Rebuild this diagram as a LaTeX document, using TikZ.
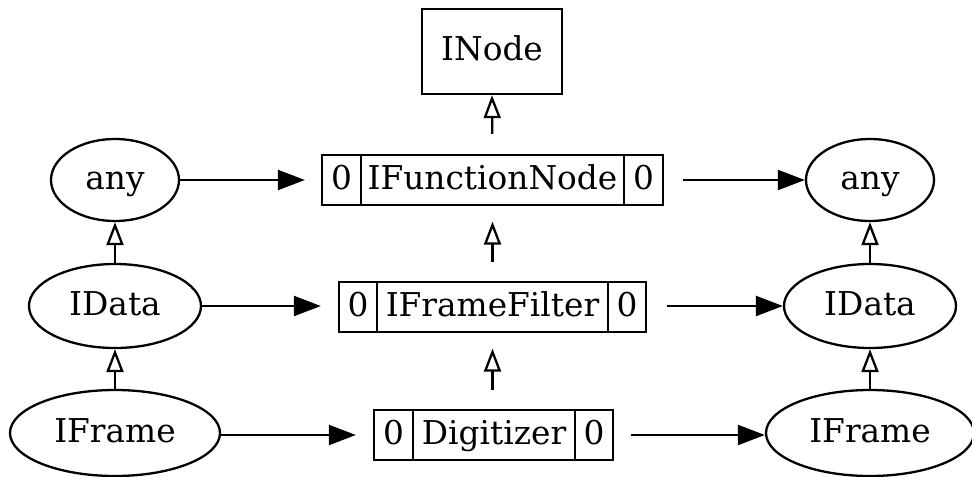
\documentclass[tikz,border=0pt]{standalone}
\usepackage{fontspec}
\setmainfont{DejaVu Serif}
\usetikzlibrary{arrows.meta,shapes.geometric}
\begin{document}
\begin{tikzpicture}[x=0.5pt,y=-0.5pt,
  every node/.style={font=\fontsize{16.4}{20}\selectfont, inner sep=0pt, line width=1.15pt, text height=12pt, text depth=2.5pt},
  ell/.style={draw, ellipse, minimum width=#1},
  cell/.style={draw, rectangle, minimum height=25pt, minimum width=#1},
  flow/.style={line width=1.15pt, -{Triangle[length=13.5pt,width=10pt]}},
  inh/.style={line width=1.15pt, -{Triangle[open,length=11.5pt,width=8.5pt]}}]
\useasboundingbox (0,0) rectangle (972,476);
% ellipses left
\node[ell=64pt, minimum height=41pt] (anyL) at (115,180) {any};
\node[ell=86pt, minimum height=42pt] (idataL) at (115,306) {IData};
\node[ell=105pt, minimum height=43pt] (iframeL) at (115,433) {IFrame};
% ellipses right
\node[ell=64pt, minimum height=41pt] (anyR) at (870,180) {any};
\node[ell=86pt, minimum height=42pt] (idataR) at (870,306) {IData};
\node[ell=104pt, minimum height=43pt] (iframeR) at (870,433) {IFrame};
% INode
\node[draw, rectangle, minimum width=70pt, minimum height=42.5pt] (inode) at (492,51.5) {INode};
% IFunctionNode record
\node[cell=19.5pt] (ifnL) at (341.5,180) {0};
\node[cell=131.5pt] (ifnM) at (492.5,180) {IFunctionNode};
\node[cell=19.5pt] (ifnR) at (643.5,180) {0};
% IFrameFilter record
\node[cell=19pt] (iffL) at (358,307) {0};
\node[cell=115.5pt] (iffM) at (492.5,307) {IFrameFilter};
\node[cell=19pt] (iffR) at (627,307) {0};
% Digitizer record
\node[cell=19.5pt] (digL) at (393.5,435) {0};
\node[cell=81pt] (digM) at (494,435) {Digitizer};
\node[cell=19pt] (digR) at (594,435) {0};
% horizontal flows
\draw[flow, shorten >=8pt] (anyL) -- (ifnL);
\draw[flow, shorten >=8.5pt] (idataL) -- (idataL -| iffL.west);
\draw[flow, shorten >=8.5pt] (iframeL.east |- digL.west) -- (digL.west);
\draw[flow, shorten <=9.5pt] (ifnR) -- (anyR);
\draw[flow, shorten <=10pt] (idataR -| iffR.east) -- (idataR);
\draw[flow, shorten <=8.5pt] (digR.east) -- (iframeR.west |- digR.east);
% inheritance
\draw[inh, shorten <=10pt] (ifnM.north) -- (inode.south);
\draw[inh, shorten <=9.5pt, shorten >=7.75pt] (iffM.north) -- (ifnM.south);
\draw[inh, shorten <=9.5pt, shorten >=7.75pt] (digM.north -| iffM.north) -- (iffM.south);
\draw[inh] (idataL) -- (anyL);
\draw[inh] (iframeL) -- (idataL);
\draw[inh] (idataR) -- (anyR);
\draw[inh] (iframeR) -- (idataR);
\end{tikzpicture}
\end{document}
